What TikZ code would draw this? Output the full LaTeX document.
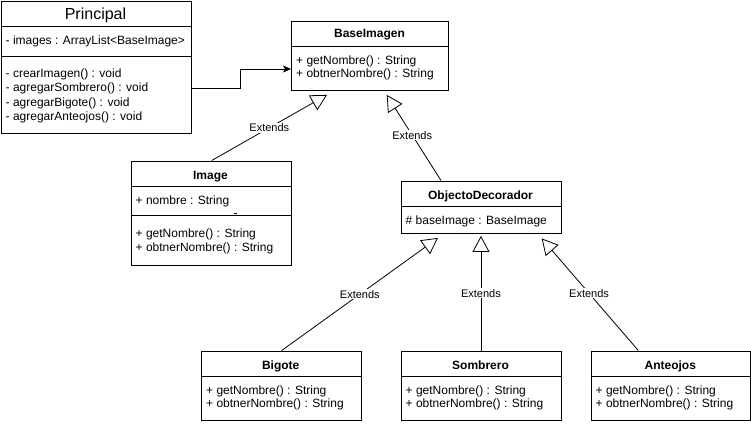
\documentclass[tikz,border=0pt]{standalone}
\usepackage{fontspec}
\setmainfont{Liberation Sans}
\usetikzlibrary{arrows.meta,calc}
\tikzset{
  umlbox/.style={draw, line width=0.9pt, inner sep=0pt, anchor=north west, fill=white},
  sepline/.style={line width=0.9pt},
  mtext/.style={anchor=base west, inner sep=0pt, font=\fontsize{12}{14}\selectfont},
  ttl/.style={anchor=base, inner sep=0pt, font=\fontsize{12}{14}\selectfont\bfseries},
  bigttl/.style={anchor=base, inner sep=0pt, font=\fontsize{16}{19}\selectfont},
  ext/.style={line width=0.8pt, -{Triangle[open, length=16pt, width=17pt, fill=white]}},
  assoc/.style={line width=0.9pt, -{Stealth[length=8pt, width=7pt, inset=2pt]}},
  lbl/.style={fill=white, inner sep=1pt, font=\fontsize{11}{13}\selectfont}
}
\begin{document}
\begin{tikzpicture}[x=1pt, y=-1pt]
\useasboundingbox (0,0) rectangle (751,424);

% ---------- Principal ----------
\node[umlbox, minimum width=190pt, minimum height=132.5pt] (principal) at (0.5,0.5) {};
\node[bigttl] (principalT) at (95.5,19.7) {Principal};
\draw[sepline] (0.5,26) -- (190.5,26);
\node[mtext] (pA) at (5.5,44.3) {- images : ArrayList<BaseImage>};
\draw[sepline] (0.5,56.7) -- (190.5,56.7);
\node[mtext] (pM1) at (5.5,77.6) {- crearImagen() : void};
\node[mtext] (pM2) at (5.5,91.9) {- agregarSombrero() : void};
\node[mtext] (pM3) at (5.5,106.2) {- agregarBigote() : void};
\node[mtext] (pM4) at (5.5,120.5) {- agregarAnteojos() : void};

% ---------- BaseImagen ----------
\node[umlbox, minimum width=157pt, minimum height=69.5pt] (base) at (291,20.5) {};
\node[ttl] (baseT) at (369.5,37.5) {BaseImagen};
\draw[sepline] (291,46) -- (448,46);
\node[mtext] (bM1) at (296,64.3) {+ getNombre() : String};
\node[mtext] (bM2) at (296,77.8) {+ obtnerNombre() : String};

% ---------- Image ----------
\node[umlbox, minimum width=160pt, minimum height=104.5pt] (image) at (130.5,160.5) {};
\node[ttl] (imageT) at (210.5,179.3) {Image};
\draw[sepline] (130.5,186.5) -- (290.5,186.5);
\node[mtext] (iA) at (135.5,204.8) {+ nombre : String};
\draw[line width=1.6pt] (233.5,213.3) -- (236.5,213.3);
\draw[sepline] (130.5,215.5) -- (290.5,215.5);
\node[mtext] (iM1) at (135.5,237.3) {+ getNombre() : String};
\node[mtext] (iM2) at (135.5,251.8) {+ obtnerNombre() : String};

% ---------- ObjectoDecorador ----------
\node[umlbox, minimum width=160pt, minimum height=52pt] (obj) at (400.5,180.5) {};
\node[ttl] (objT) at (480.5,199.3) {ObjectoDecorador};
\draw[sepline] (400.5,206.3) -- (560.5,206.3);
\node[mtext] (oA) at (405.5,224.3) {\# baseImage : BaseImage};

% ---------- Bigote ----------
\node[umlbox, minimum width=159.5pt, minimum height=69.5pt] (bigote) at (201,350.5) {};
\node[ttl] (bigT) at (280.7,369.3) {Bigote};
\draw[sepline] (201,376) -- (360.5,376);
\node[mtext] (gM1) at (206,394.3) {+ getNombre() : String};
\node[mtext] (gM2) at (206,407.8) {+ obtnerNombre() : String};

% ---------- Sombrero ----------
\node[umlbox, minimum width=160pt, minimum height=69.5pt] (sombrero) at (400.5,350.5) {};
\node[ttl] (somT) at (480.5,369.3) {Sombrero};
\draw[sepline] (400.5,376) -- (560.5,376);
\node[mtext] (sM1) at (405.5,394.3) {+ getNombre() : String};
\node[mtext] (sM2) at (405.5,407.8) {+ obtnerNombre() : String};

% ---------- Anteojos ----------
\node[umlbox, minimum width=159.5pt, minimum height=69.5pt] (anteojos) at (590.5,350.5) {};
\node[ttl] (antT) at (670.3,369.3) {Anteojos};
\draw[sepline] (590.5,376) -- (750,376);
\node[mtext] (aM1) at (595.5,394.3) {+ getNombre() : String};
\node[mtext] (aM2) at (595.5,407.8) {+ obtnerNombre() : String};

% ---------- Connectors ----------
\draw[assoc] ([yshift=-87.8pt]principal.north east) -- ++(49.5,0)
   |- ([yshift=-48.5pt]base.north west);

\draw[ext] ([xshift=81.2pt]image.north west) --
   node[lbl, pos=0.5] {Extends} ([xshift=36pt, yshift=-4pt]base.south west);
\draw[ext] ([xshift=40.5pt]obj.north west) --
   node[lbl, pos=0.53] {Extends} ([xshift=95.7pt, yshift=-4pt]base.south west);
\draw[ext] ([xshift=80.7pt]bigote.north west) --
   node[lbl, pos=0.5] {Extends} ([xshift=37.5pt, yshift=-4.5pt]obj.south west);
\draw[ext] (sombrero.north) --
   node[lbl, pos=0.5] {Extends} ([yshift=-2.5pt]obj.south);
\draw[ext] ([xshift=47.8pt]anteojos.north west) --
   node[lbl, pos=0.51] {Extends} ([xshift=141.2pt, yshift=-5pt]obj.south west);
\end{tikzpicture}
\end{document}
